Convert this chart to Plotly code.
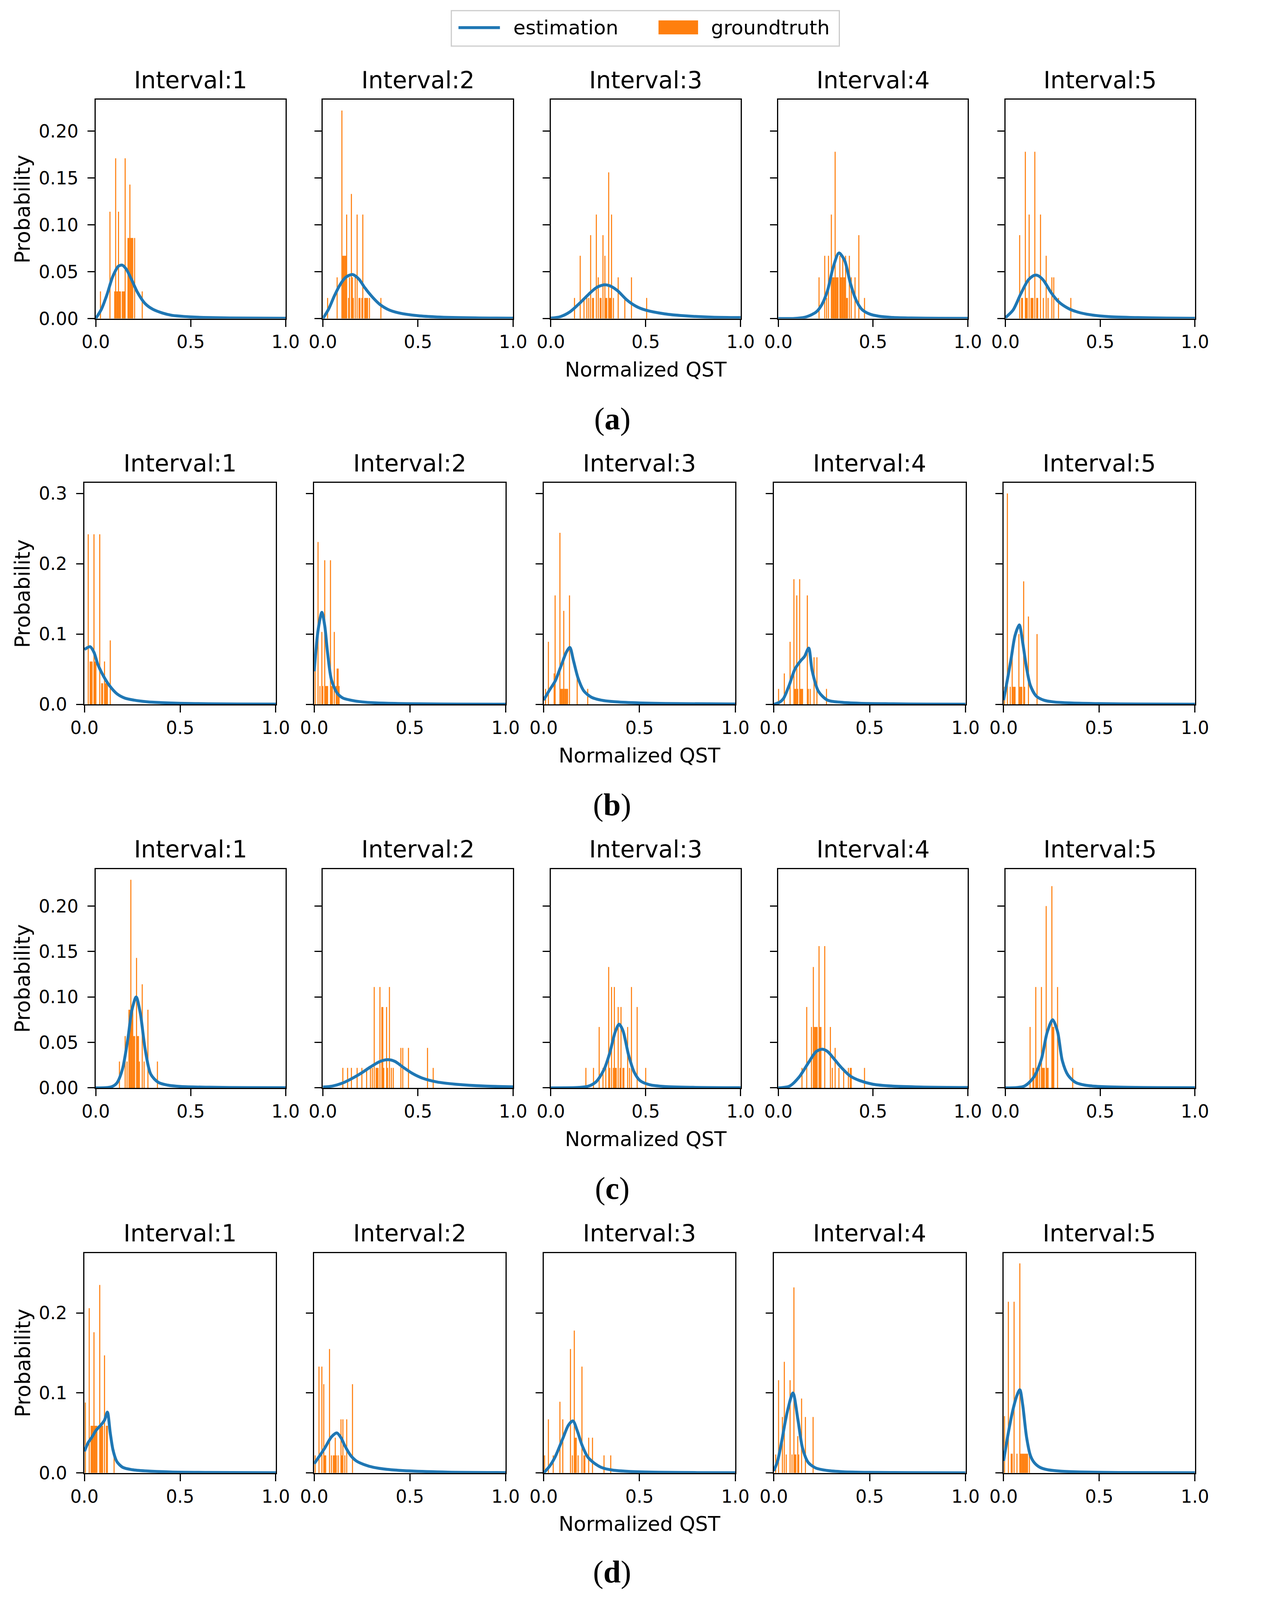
import plotly.graph_objects as go
from plotly.subplots import make_subplots

# ---- data ----
rows = ["a", "b", "c", "d"]
intervals = ["Interval:1", "Interval:2", "Interval:3", "Interval:4", "Interval:5"]

# groundtruth histogram bins: centres and probabilities, one list per interval
gt_x_a = [
    [0.025, 0.075, 0.100, 0.105, 0.110, 0.115, 0.120, 0.125, 0.130, 0.140, 0.145, 0.150, 0.155, 0.170, 0.175, 0.180, 0.185, 0.190, 0.195, 0.205, 0.245],
    [0.025, 0.075, 0.100, 0.105, 0.110, 0.115, 0.120, 0.125, 0.135, 0.140, 0.150, 0.155, 0.160, 0.170, 0.180, 0.190, 0.195, 0.205, 0.210, 0.220, 0.225, 0.230, 0.235, 0.245, 0.305],
    [0.125, 0.155, 0.175, 0.190, 0.200, 0.210, 0.220, 0.225, 0.240, 0.250, 0.260, 0.265, 0.275, 0.285, 0.290, 0.295, 0.305, 0.310, 0.315, 0.320, 0.330, 0.355, 0.390, 0.425, 0.505],
    [0.215, 0.245, 0.255, 0.265, 0.280, 0.285, 0.290, 0.295, 0.300, 0.305, 0.310, 0.315, 0.325, 0.330, 0.335, 0.340, 0.345, 0.350, 0.355, 0.360, 0.365, 0.375, 0.385, 0.405, 0.425, 0.455],
    [0.075, 0.085, 0.090, 0.105, 0.110, 0.115, 0.125, 0.135, 0.140, 0.145, 0.155, 0.165, 0.170, 0.185, 0.200, 0.215, 0.225, 0.245, 0.255, 0.280, 0.345],
]
gt_p_a = [
    [0.029, 0.114, 0.029, 0.171, 0.029, 0.029, 0.114, 0.029, 0.029, 0.029, 0.029, 0.029, 0.171, 0.086, 0.086, 0.143, 0.086, 0.086, 0.086, 0.086, 0.029],
    [0.022, 0.044, 0.222, 0.067, 0.067, 0.067, 0.067, 0.111, 0.022, 0.044, 0.133, 0.044, 0.022, 0.044, 0.111, 0.022, 0.022, 0.022, 0.111, 0.022, 0.022, 0.022, 0.022, 0.022, 0.022],
    [0.022, 0.067, 0.022, 0.022, 0.022, 0.089, 0.022, 0.022, 0.111, 0.044, 0.022, 0.022, 0.089, 0.067, 0.022, 0.022, 0.156, 0.022, 0.022, 0.111, 0.022, 0.044, 0.022, 0.044, 0.022],
    [0.044, 0.067, 0.022, 0.067, 0.111, 0.044, 0.044, 0.044, 0.178, 0.044, 0.044, 0.044, 0.067, 0.044, 0.044, 0.067, 0.044, 0.044, 0.067, 0.022, 0.022, 0.067, 0.044, 0.044, 0.089, 0.022],
    [0.089, 0.022, 0.022, 0.178, 0.022, 0.022, 0.111, 0.022, 0.022, 0.022, 0.178, 0.022, 0.022, 0.111, 0.022, 0.067, 0.022, 0.044, 0.044, 0.022, 0.022],
]
gt_x_b = [
    [0.020, 0.030, 0.035, 0.040, 0.050, 0.055, 0.060, 0.080, 0.090, 0.095, 0.105, 0.110, 0.115, 0.120, 0.135],
    [0.005, 0.020, 0.030, 0.040, 0.045, 0.055, 0.060, 0.065, 0.070, 0.085, 0.090, 0.095, 0.105, 0.115, 0.120, 0.125, 0.130],
    [0.010, 0.025, 0.055, 0.060, 0.085, 0.090, 0.095, 0.100, 0.105, 0.110, 0.115, 0.120, 0.125, 0.135, 0.175, 0.230],
    [0.025, 0.055, 0.085, 0.105, 0.110, 0.115, 0.120, 0.125, 0.135, 0.140, 0.145, 0.150, 0.175, 0.180, 0.190, 0.210, 0.225, 0.275],
    [0.005, 0.020, 0.035, 0.045, 0.050, 0.055, 0.060, 0.080, 0.085, 0.090, 0.095, 0.105, 0.110, 0.130, 0.175],
]
gt_p_b = [
    [0.242, 0.061, 0.061, 0.061, 0.242, 0.061, 0.061, 0.242, 0.030, 0.030, 0.061, 0.030, 0.030, 0.030, 0.091],
    [0.051, 0.231, 0.026, 0.103, 0.026, 0.205, 0.026, 0.026, 0.026, 0.205, 0.026, 0.026, 0.103, 0.026, 0.051, 0.051, 0.026],
    [0.022, 0.089, 0.044, 0.155, 0.244, 0.022, 0.022, 0.022, 0.133, 0.022, 0.022, 0.022, 0.022, 0.155, 0.044, 0.022],
    [0.022, 0.044, 0.089, 0.178, 0.022, 0.022, 0.155, 0.022, 0.178, 0.022, 0.022, 0.022, 0.155, 0.022, 0.022, 0.067, 0.067, 0.022],
    [0.025, 0.300, 0.025, 0.075, 0.025, 0.025, 0.025, 0.100, 0.025, 0.025, 0.025, 0.175, 0.025, 0.125, 0.100],
]
gt_x_c = [
    [0.125, 0.155, 0.165, 0.175, 0.180, 0.185, 0.190, 0.195, 0.200, 0.205, 0.215, 0.220, 0.225, 0.230, 0.245, 0.255, 0.275, 0.325],
    [0.105, 0.130, 0.150, 0.180, 0.205, 0.230, 0.250, 0.260, 0.270, 0.280, 0.285, 0.290, 0.300, 0.310, 0.315, 0.320, 0.335, 0.340, 0.350, 0.360, 0.370, 0.410, 0.420, 0.450, 0.550, 0.580],
    [0.185, 0.225, 0.255, 0.275, 0.290, 0.305, 0.310, 0.320, 0.330, 0.335, 0.340, 0.345, 0.355, 0.365, 0.370, 0.380, 0.385, 0.405, 0.415, 0.425, 0.455, 0.500],
    [0.125, 0.150, 0.175, 0.185, 0.190, 0.195, 0.200, 0.205, 0.215, 0.220, 0.225, 0.245, 0.275, 0.285, 0.300, 0.320, 0.345, 0.370, 0.380, 0.385, 0.455],
    [0.130, 0.145, 0.150, 0.160, 0.165, 0.170, 0.180, 0.190, 0.195, 0.200, 0.205, 0.215, 0.220, 0.225, 0.245, 0.250, 0.255, 0.275, 0.355],
]
gt_p_c = [
    [0.029, 0.057, 0.029, 0.086, 0.086, 0.229, 0.086, 0.086, 0.057, 0.057, 0.143, 0.057, 0.057, 0.029, 0.114, 0.029, 0.086, 0.029],
    [0.022, 0.022, 0.022, 0.022, 0.022, 0.022, 0.022, 0.022, 0.111, 0.022, 0.022, 0.022, 0.111, 0.089, 0.089, 0.022, 0.089, 0.022, 0.111, 0.022, 0.022, 0.044, 0.044, 0.044, 0.044, 0.022],
    [0.022, 0.022, 0.067, 0.022, 0.022, 0.133, 0.022, 0.111, 0.022, 0.111, 0.022, 0.022, 0.089, 0.022, 0.089, 0.022, 0.022, 0.067, 0.022, 0.111, 0.089, 0.022],
    [0.022, 0.089, 0.067, 0.133, 0.067, 0.067, 0.067, 0.067, 0.156, 0.067, 0.067, 0.156, 0.067, 0.022, 0.044, 0.022, 0.022, 0.022, 0.022, 0.022, 0.022],
    [0.067, 0.022, 0.022, 0.111, 0.022, 0.022, 0.022, 0.111, 0.022, 0.022, 0.022, 0.200, 0.022, 0.022, 0.222, 0.067, 0.067, 0.111, 0.022],
]
gt_x_d = [
    [0.005, 0.025, 0.035, 0.040, 0.045, 0.050, 0.055, 0.060, 0.065, 0.080, 0.085, 0.090, 0.095, 0.105, 0.115, 0.120, 0.155],
    [0.005, 0.025, 0.040, 0.050, 0.055, 0.060, 0.080, 0.090, 0.100, 0.105, 0.110, 0.115, 0.125, 0.140, 0.145, 0.150, 0.160, 0.170, 0.200],
    [0.005, 0.025, 0.050, 0.085, 0.100, 0.140, 0.150, 0.160, 0.165, 0.170, 0.180, 0.200, 0.210, 0.215, 0.235, 0.255, 0.315, 0.350],
    [0.010, 0.025, 0.045, 0.055, 0.065, 0.085, 0.095, 0.105, 0.110, 0.115, 0.125, 0.130, 0.145, 0.165, 0.205],
    [0.005, 0.025, 0.040, 0.045, 0.055, 0.070, 0.085, 0.090, 0.095, 0.100, 0.105, 0.110, 0.115, 0.120, 0.125, 0.135],
]
gt_p_d = [
    [0.088, 0.206, 0.059, 0.059, 0.059, 0.176, 0.059, 0.059, 0.059, 0.235, 0.059, 0.059, 0.059, 0.147, 0.059, 0.059, 0.029],
    [0.022, 0.133, 0.133, 0.111, 0.022, 0.022, 0.155, 0.022, 0.022, 0.022, 0.044, 0.022, 0.022, 0.067, 0.022, 0.067, 0.022, 0.067, 0.111],
    [0.022, 0.067, 0.022, 0.089, 0.067, 0.155, 0.022, 0.178, 0.044, 0.044, 0.022, 0.133, 0.022, 0.022, 0.044, 0.044, 0.022, 0.022],
    [0.023, 0.116, 0.070, 0.139, 0.023, 0.116, 0.023, 0.232, 0.023, 0.023, 0.046, 0.023, 0.093, 0.070, 0.070],
    [0.071, 0.214, 0.024, 0.024, 0.214, 0.024, 0.262, 0.024, 0.024, 0.024, 0.024, 0.024, 0.024, 0.024, 0.024, 0.024],
]

# estimated densities: sample points
est_x_a = [
    [0, 0.03, 0.06, 0.09, 0.12, 0.14, 0.16, 0.19, 0.22, 0.26, 0.30, 0.35, 0.40, 0.50, 0.60, 0.80, 1.0],
    [0, 0.03, 0.06, 0.09, 0.12, 0.155, 0.19, 0.22, 0.26, 0.30, 0.35, 0.40, 0.50, 0.60, 0.80, 1.0],
    [0, 0.05, 0.10, 0.15, 0.20, 0.24, 0.28, 0.31, 0.35, 0.40, 0.45, 0.50, 0.60, 0.70, 0.85, 1.0],
    [0, 0.10, 0.15, 0.20, 0.23, 0.26, 0.29, 0.32, 0.35, 0.38, 0.41, 0.44, 0.48, 0.53, 0.60, 0.70, 0.85, 1.0],
    [0, 0.04, 0.08, 0.12, 0.15, 0.17, 0.20, 0.24, 0.28, 0.33, 0.38, 0.45, 0.55, 0.70, 0.85, 1.0],
]
est_p_a = [
    [0, 0.010, 0.026, 0.045, 0.056, 0.057, 0.053, 0.041, 0.028, 0.016, 0.010, 0.006, 0.0035, 0.0018, 0.001, 0.0005, 0.0003],
    [0, 0.010, 0.024, 0.036, 0.044, 0.047, 0.042, 0.033, 0.023, 0.015, 0.009, 0.006, 0.003, 0.0017, 0.0007, 0.0004],
    [0.0005, 0.002, 0.007, 0.016, 0.026, 0.033, 0.036, 0.035, 0.030, 0.020, 0.013, 0.009, 0.005, 0.003, 0.0015, 0.001],
    [0, 0.0003, 0.002, 0.007, 0.015, 0.030, 0.055, 0.070, 0.062, 0.038, 0.020, 0.010, 0.005, 0.0025, 0.0012, 0.0006, 0.0003, 0.0002],
    [0.001, 0.009, 0.026, 0.041, 0.046, 0.046, 0.041, 0.028, 0.018, 0.011, 0.007, 0.004, 0.002, 0.001, 0.0005, 0.0003],
]
est_x_b = [
    [0, 0.03, 0.05, 0.07, 0.10, 0.13, 0.17, 0.21, 0.26, 0.33, 0.40, 0.50, 0.65, 0.80, 1.0],
    [0, 0.02, 0.04, 0.055, 0.07, 0.09, 0.12, 0.15, 0.19, 0.25, 0.32, 0.42, 0.55, 0.75, 1.0],
    [0, 0.03, 0.06, 0.09, 0.12, 0.137, 0.155, 0.18, 0.21, 0.25, 0.30, 0.38, 0.50, 0.70, 1.0],
    [0, 0.03, 0.05, 0.08, 0.11, 0.14, 0.16, 0.182, 0.20, 0.233, 0.28, 0.35, 0.45, 0.60, 0.80, 1.0],
    [0, 0.02, 0.04, 0.06, 0.082, 0.10, 0.12, 0.14, 0.17, 0.21, 0.26, 0.35, 0.50, 0.70, 1.0],
]
est_p_b = [
    [0.078, 0.082, 0.074, 0.057, 0.040, 0.027, 0.015, 0.009, 0.006, 0.0036, 0.0025, 0.0015, 0.0008, 0.0005, 0.0003],
    [0.047, 0.105, 0.131, 0.112, 0.073, 0.035, 0.016, 0.009, 0.006, 0.0035, 0.0022, 0.0013, 0.0008, 0.0004, 0.0002],
    [0.006, 0.020, 0.033, 0.054, 0.075, 0.081, 0.063, 0.037, 0.019, 0.010, 0.006, 0.0035, 0.002, 0.001, 0.0005],
    [0.0, 0.003, 0.008, 0.027, 0.050, 0.062, 0.068, 0.080, 0.048, 0.0185, 0.006, 0.003, 0.0015, 0.0008, 0.0004, 0.0002],
    [0.006, 0.035, 0.066, 0.098, 0.113, 0.088, 0.052, 0.027, 0.012, 0.006, 0.0035, 0.002, 0.001, 0.0005, 0.0002],
]
est_x_c = [
    [0, 0.08, 0.11, 0.14, 0.17, 0.19, 0.213, 0.235, 0.26, 0.29, 0.33, 0.38, 0.45, 0.60, 0.80, 1.0],
    [0, 0.05, 0.10, 0.15, 0.20, 0.25, 0.30, 0.343, 0.38, 0.42, 0.47, 0.52, 0.60, 0.70, 0.85, 1.0],
    [0, 0.15, 0.20, 0.24, 0.28, 0.31, 0.34, 0.36, 0.38, 0.41, 0.44, 0.47, 0.52, 0.60, 0.75, 1.0],
    [0, 0.06, 0.11, 0.16, 0.20, 0.232, 0.26, 0.29, 0.33, 0.38, 0.43, 0.50, 0.60, 0.75, 1.0],
    [0, 0.10, 0.15, 0.19, 0.22, 0.249, 0.275, 0.30, 0.33, 0.37, 0.42, 0.50, 0.65, 0.80, 1.0],
]
est_p_c = [
    [0, 0.001, 0.005, 0.020, 0.055, 0.085, 0.100, 0.082, 0.043, 0.015, 0.006, 0.003, 0.0015, 0.0007, 0.0003, 0.0002],
    [0.001, 0.002, 0.005, 0.010, 0.016, 0.023, 0.029, 0.031, 0.029, 0.023, 0.016, 0.011, 0.0065, 0.004, 0.002, 0.0012],
    [0, 0.0005, 0.002, 0.007, 0.020, 0.038, 0.062, 0.070, 0.063, 0.036, 0.017, 0.008, 0.0035, 0.0015, 0.0006, 0.0002],
    [0, 0.002, 0.012, 0.028, 0.040, 0.0425, 0.040, 0.033, 0.023, 0.013, 0.008, 0.004, 0.002, 0.001, 0.0004],
    [0, 0.002, 0.012, 0.032, 0.061, 0.075, 0.062, 0.030, 0.014, 0.006, 0.003, 0.0015, 0.0006, 0.0003, 0.0002],
]
est_x_d = [
    [0, 0.02, 0.04, 0.06, 0.09, 0.105, 0.12, 0.135, 0.15, 0.17, 0.20, 0.25, 0.32, 0.45, 0.65, 1.0],
    [0, 0.03, 0.055, 0.09, 0.118, 0.14, 0.16, 0.19, 0.22, 0.26, 0.31, 0.38, 0.50, 0.70, 1.0],
    [0, 0.03, 0.06, 0.10, 0.13, 0.153, 0.175, 0.20, 0.23, 0.26, 0.30, 0.36, 0.45, 0.60, 0.80, 1.0],
    [0, 0.02, 0.04, 0.07, 0.10, 0.125, 0.15, 0.18, 0.22, 0.28, 0.36, 0.50, 0.70, 1.0],
    [0, 0.027, 0.05, 0.07, 0.085, 0.10, 0.12, 0.14, 0.16, 0.19, 0.23, 0.30, 0.40, 0.60, 1.0],
]
est_p_d = [
    [0.027, 0.038, 0.045, 0.053, 0.061, 0.066, 0.076, 0.050, 0.028, 0.014, 0.007, 0.004, 0.0025, 0.0012, 0.0006, 0.0002],
    [0.0115, 0.022, 0.031, 0.045, 0.050, 0.044, 0.034, 0.022, 0.015, 0.0105, 0.007, 0.0045, 0.0025, 0.001, 0.0004],
    [0, 0.008, 0.020, 0.043, 0.060, 0.065, 0.053, 0.035, 0.020, 0.013, 0.007, 0.0035, 0.0018, 0.0008, 0.0004, 0.0002],
    [0.0025, 0.015, 0.038, 0.076, 0.100, 0.068, 0.031, 0.013, 0.006, 0.003, 0.0015, 0.0007, 0.0003, 0.0001],
    [0.015, 0.053, 0.080, 0.097, 0.104, 0.085, 0.045, 0.022, 0.013, 0.007, 0.004, 0.0022, 0.0012, 0.0005, 0.0002],
]

# y axis per group
y_max = [0.2335, 0.315, 0.2407, 0.275]
y_ticks = [[0, 0.05, 0.10, 0.15, 0.20], [0, 0.1, 0.2, 0.3], [0, 0.05, 0.10, 0.15, 0.20], [0, 0.1, 0.2]]
y_ticktext = [["0.00", "0.05", "0.10", "0.15", "0.20"], ["0.0", "0.1", "0.2", "0.3"],
              ["0.00", "0.05", "0.10", "0.15", "0.20"], ["0.0", "0.1", "0.2"]]

gt_x = [gt_x_a, gt_x_b, gt_x_c, gt_x_d]
gt_p = [gt_p_a, gt_p_b, gt_p_c, gt_p_d]
est_x = [est_x_a, est_x_b, est_x_c, est_x_d]
est_p = [est_p_a, est_p_b, est_p_c, est_p_d]

# ---- layout geometry ----
# positions below are measured in reference-picture pixels and mapped to the
# css pixels of the page (the photo shows the page slightly enlarged/offset)
SCALE = 1.027
W = 3140
H = 4120


def fx(p):
    return (0.9869 * p - 40) / W


def fy(p):
    return 1 - (p / SCALE - 8) / H


def sz(v):
    return v / SCALE


cols_wide = [(249, 753), (852, 1357), (1457, 1961), (2061, 2564), (2664, 3167)]
cols_narrow = [(219, 727), (829, 1337), (1438, 1947), (2049, 2558), (2659, 3167)]
row_cols = [cols_wide, cols_narrow, cols_wide, cols_narrow]
row_tb = [(264, 843), (1278, 1864), (2300, 2879), (3316, 3898)]
caption_y = [1109, 2130, 3145, 4160]

BLUE = "#1f77b4"
ORANGE = "#ff7f0e"
FONT = "DejaVu Sans"
TICK = sz(47)

fig = make_subplots(rows=4, cols=5)

annotations = []
for r in range(4):
    top, bot = row_tb[r]
    for c in range(5):
        i = r * 5 + c + 1
        fig.add_trace(go.Bar(x=gt_x[r][c], y=gt_p[r][c], width=0.0055,
                             marker=dict(color=ORANGE, line=dict(width=0)),
                             showlegend=False), row=r + 1, col=c + 1)
        fig.add_trace(go.Scatter(x=est_x[r][c], y=est_p[r][c], mode="lines",
                                 line=dict(color=BLUE, width=7.5, shape="spline", smoothing=0.8),
                                 showlegend=False), row=r + 1, col=c + 1)
        x0, x1 = row_cols[r][c]
        xa = "xaxis" if i == 1 else f"xaxis{i}"
        ya = "yaxis" if i == 1 else f"yaxis{i}"
        fig.layout[xa].update(
            domain=[fx(x0), fx(x1)], range=[0, 1],
            tickvals=[0, 0.5, 1], ticktext=["0.0", "0.5", "1.0"],
            ticks="outside", ticklen=round(sz(18)), tickwidth=3, tickcolor="black",
            showline=True, mirror=True, linecolor="black", linewidth=3,
            showgrid=False, zeroline=False, ticklabelstandoff=0,
            tickfont=dict(family=FONT, size=TICK, color="black"))
        fig.layout[ya].update(
            domain=[fy(bot), fy(top)], range=[0, y_max[r]],
            tickvals=y_ticks[r], ticktext=y_ticktext[r],
            showticklabels=(c == 0),
            ticks="outside", ticklen=round(sz(18)), tickwidth=3, tickcolor="black",
            showline=True, mirror=True, linecolor="black", linewidth=3,
            showgrid=False, zeroline=False, ticklabelstandoff=14,
            tickfont=dict(family=FONT, size=TICK, color="black"))
        annotations.append(dict(
            text=intervals[c], x=(fx(x0) + fx(x1)) / 2, y=fy(top - 14),
            xref="paper", yref="paper", xanchor="center", yanchor="bottom",
            showarrow=False, font=dict(family=FONT, size=sz(62), color="black")))
    # axis labels and caption
    annotations.append(dict(
        text="Probability", textangle=-90, x=fx(55), y=(fy(top) + fy(bot)) / 2,
        xref="paper", yref="paper", xanchor="center", yanchor="middle",
        showarrow=False, font=dict(family=FONT, size=sz(54), color="black")))
    mx0, mx1 = row_cols[r][2]
    annotations.append(dict(
        text="Normalized QST", x=(fx(mx0) + fx(mx1)) / 2, y=fy(bot + 135),
        xref="paper", yref="paper", xanchor="center", yanchor="middle",
        showarrow=False, font=dict(family=FONT, size=sz(53), color="black")))
    annotations.append(dict(
        text=f"(<b>{rows[r]}</b>)", x=fx(1620), y=fy(caption_y[r]),
        xref="paper", yref="paper", xanchor="center", yanchor="middle",
        showarrow=False, font=dict(family="Liberation Serif", size=sz(82), color="black")))

# legend drawn by hand to match the boxed matplotlib legend
shapes = [
    dict(type="rect", xref="paper", yref="paper", x0=fx(1193), x1=fx(2223),
         y0=fy(122), y1=fy(28), line=dict(color="#cccccc", width=3),
         fillcolor="white"),
    dict(type="line", xref="paper", yref="paper", x0=fx(1212), x1=fx(1322),
         y0=fy(73), y1=fy(73), line=dict(color=BLUE, width=7.5)),
    dict(type="rect", xref="paper", yref="paper", x0=fx(1743), x1=fx(1848),
         y0=fy(91), y1=fy(54), line=dict(width=0), fillcolor=ORANGE),
]
annotations.append(dict(text="estimation", x=fx(1355), y=fy(73), xref="paper", yref="paper",
                        xanchor="left", yanchor="middle", showarrow=False,
                        font=dict(family=FONT, size=sz(52), color="black")))
annotations.append(dict(text="groundtruth", x=fx(1880), y=fy(73), xref="paper", yref="paper",
                        xanchor="left", yanchor="middle", showarrow=False,
                        font=dict(family=FONT, size=sz(52), color="black")))

fig.update_layout(
    width=W, height=H,
    margin=dict(l=0, r=0, t=0, b=0),
    paper_bgcolor="white", plot_bgcolor="white",
    barmode="overlay", showlegend=False,
    annotations=annotations, shapes=shapes,
)

fig.write_html("out.html")
